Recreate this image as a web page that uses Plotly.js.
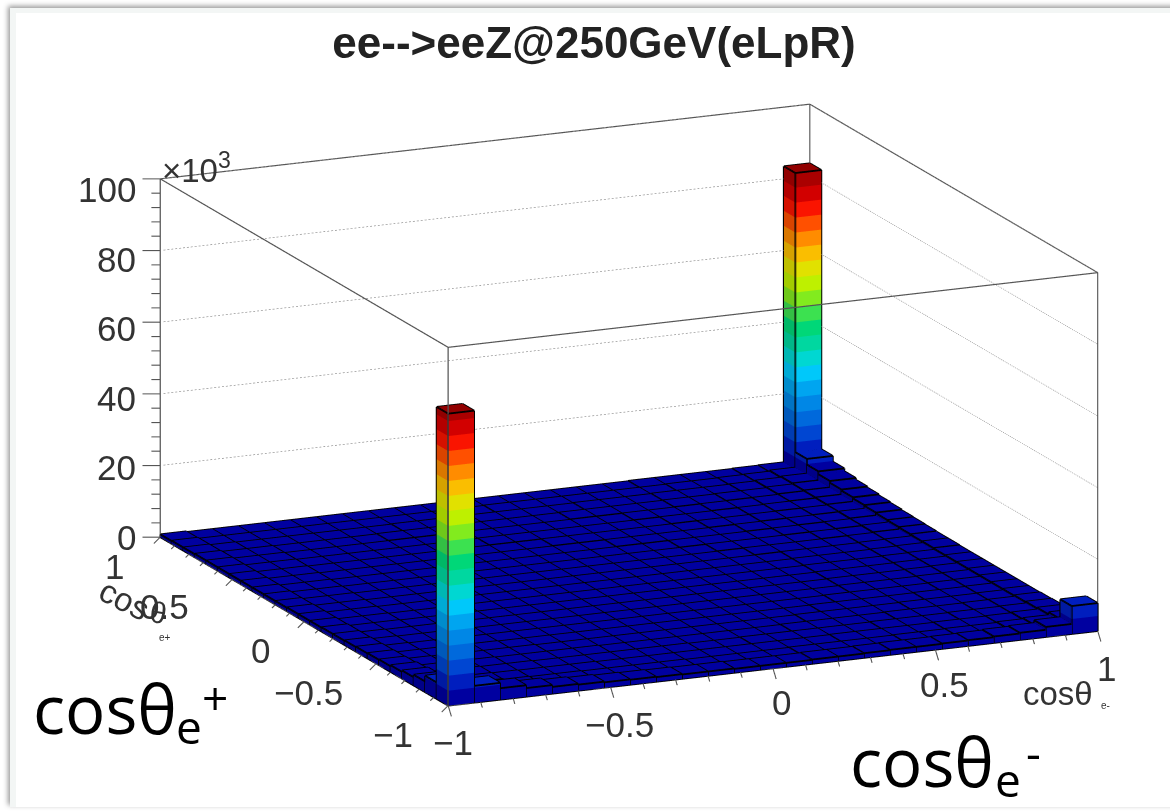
<!DOCTYPE html>
<html><head><meta charset="utf-8">
<script src="https://cdn.plot.ly/plotly-3.0.1.min.js"></script>
<style>
html,body{margin:0;padding:0;width:1170px;height:812px;overflow:hidden;background:#fff}
#outer{position:absolute;left:10px;top:8px;width:1200px;height:799px;background:#f3f6f5;box-shadow:-2px -2px 5px #999}
#inner{position:absolute;left:16px;top:13px;width:1200px;height:794px;background:#fff}
#chart{position:absolute;left:0;top:0;width:1170px;height:812px}
</style></head><body>
<div id="outer"></div><div id="inner"></div><div id="chart"></div>
<script>
// counts per bin in units of 10^3; rows run along cosθe+ from -1 to 1, columns along cosθe- from -1 to 1
const row01=[81.5,4.7,3.2,2.4,1.9,1.7,1.5,1.4,1.3,1.2,1.2,1.1,1.1,1.1,1.2,1.2,1.3,1.4,1.4,1.5,1.6,1.8,2.0,2.8,7.8];
const row02=[4.6,1.6,1.2,1.0,0.9,0.9,0.8,0.8,0.8,0.8,0.7,0.7,0.7,0.7,0.8,0.8,0.8,0.8,0.9,0.9,1.0,1.0,1.2,1.5,2.3];
const row03=[3.0,1.2,1.0,0.9,0.8,0.8,0.8,0.7,0.7,0.7,0.7,0.7,0.7,0.7,0.7,0.7,0.8,0.8,0.8,0.8,0.9,0.9,1.0,1.2,1.7];
const row04=[2.3,1.0,0.9,0.8,0.8,0.7,0.7,0.7,0.7,0.7,0.7,0.6,0.6,0.7,0.7,0.7,0.7,0.7,0.8,0.8,0.8,0.9,0.9,1.0,1.5];
const row05=[1.9,0.9,0.8,0.8,0.7,0.7,0.7,0.7,0.6,0.6,0.6,0.6,0.6,0.6,0.6,0.7,0.7,0.7,0.7,0.8,0.8,0.8,0.9,1.0,1.4];
const row06=[1.6,0.9,0.8,0.7,0.7,0.7,0.6,0.6,0.6,0.6,0.6,0.6,0.6,0.6,0.6,0.6,0.7,0.7,0.7,0.7,0.8,0.8,0.8,0.9,1.3];
const row07=[1.5,0.8,0.8,0.7,0.7,0.6,0.6,0.6,0.6,0.6,0.6,0.6,0.6,0.6,0.6,0.6,0.6,0.7,0.7,0.7,0.7,0.8,0.8,0.9,1.3];
const row08=[1.4,0.8,0.7,0.7,0.6,0.6,0.6,0.6,0.6,0.6,0.6,0.6,0.6,0.6,0.6,0.6,0.6,0.6,0.7,0.7,0.7,0.7,0.8,0.9,1.3];
const row09=[1.3,0.8,0.7,0.7,0.6,0.6,0.6,0.6,0.6,0.6,0.6,0.6,0.6,0.6,0.6,0.6,0.6,0.6,0.6,0.7,0.7,0.7,0.8,0.9,1.3];
const row10=[1.2,0.8,0.7,0.7,0.6,0.6,0.6,0.6,0.6,0.6,0.6,0.6,0.6,0.6,0.6,0.6,0.6,0.6,0.6,0.7,0.7,0.7,0.8,0.9,1.3];
const row11=[1.2,0.7,0.7,0.6,0.6,0.6,0.6,0.6,0.6,0.6,0.6,0.6,0.6,0.6,0.6,0.6,0.6,0.6,0.6,0.7,0.7,0.7,0.8,0.9,1.3];
const row12=[1.1,0.7,0.7,0.6,0.6,0.6,0.6,0.6,0.6,0.6,0.6,0.6,0.6,0.6,0.6,0.6,0.6,0.6,0.6,0.7,0.7,0.7,0.8,0.9,1.3];
const row13=[1.1,0.7,0.7,0.6,0.6,0.6,0.6,0.6,0.6,0.6,0.6,0.6,0.6,0.6,0.6,0.6,0.6,0.6,0.6,0.7,0.7,0.7,0.8,0.9,1.4];
const row14=[1.1,0.7,0.7,0.6,0.6,0.6,0.6,0.6,0.6,0.6,0.6,0.6,0.6,0.6,0.6,0.6,0.6,0.6,0.6,0.7,0.7,0.7,0.8,0.9,1.4];
const row15=[1.0,0.7,0.7,0.6,0.6,0.6,0.6,0.6,0.6,0.6,0.6,0.6,0.6,0.6,0.6,0.6,0.6,0.6,0.7,0.7,0.7,0.7,0.8,0.9,1.5];
const row16=[1.0,0.7,0.7,0.6,0.6,0.6,0.6,0.6,0.6,0.6,0.6,0.6,0.6,0.6,0.6,0.6,0.6,0.7,0.7,0.7,0.7,0.8,0.8,1.0,1.6];
const row17=[1.0,0.7,0.7,0.6,0.6,0.6,0.6,0.6,0.6,0.6,0.6,0.6,0.6,0.6,0.6,0.6,0.7,0.7,0.7,0.7,0.8,0.8,0.9,1.0,1.7];
const row18=[1.0,0.7,0.7,0.6,0.6,0.6,0.6,0.6,0.6,0.6,0.6,0.6,0.6,0.6,0.7,0.7,0.7,0.7,0.7,0.8,0.8,0.9,0.9,1.1,1.9];
const row19=[1.0,0.7,0.7,0.6,0.6,0.6,0.6,0.6,0.6,0.6,0.6,0.6,0.7,0.7,0.7,0.7,0.7,0.7,0.8,0.8,0.9,0.9,1.0,1.1,2.1];
const row20=[1.0,0.7,0.7,0.6,0.6,0.6,0.6,0.6,0.6,0.6,0.7,0.7,0.7,0.7,0.7,0.7,0.7,0.8,0.8,0.8,0.9,1.0,1.0,1.2,2.4];
const row21=[1.0,0.7,0.7,0.6,0.6,0.6,0.6,0.6,0.6,0.7,0.7,0.7,0.7,0.7,0.7,0.7,0.8,0.8,0.8,0.9,0.9,1.0,1.1,1.3,2.7];
const row22=[1.0,0.7,0.7,0.6,0.6,0.6,0.6,0.7,0.7,0.7,0.7,0.7,0.7,0.7,0.8,0.8,0.8,0.8,0.9,0.9,1.0,1.0,1.2,1.4,3.2];
const row23=[0.9,0.7,0.6,0.6,0.6,0.6,0.6,0.6,0.7,0.7,0.7,0.7,0.7,0.7,0.7,0.8,0.8,0.8,0.9,0.9,0.9,1.0,1.2,1.5,4.0];
const row24=[0.9,0.6,0.6,0.6,0.6,0.6,0.6,0.6,0.6,0.6,0.6,0.6,0.7,0.7,0.7,0.7,0.7,0.7,0.7,0.8,0.8,0.9,1.0,1.3,5.6];
const row25=[0.8,0.6,0.6,0.6,0.6,0.6,0.6,0.6,0.6,0.6,0.6,0.6,0.6,0.6,0.6,0.6,0.6,0.6,0.7,0.7,0.7,0.7,0.8,0.9,83.5];
const binValues=[row01,row02,row03,row04,row05,row06,row07,row08,row09,row10,row11,row12,row13,row14,row15,row16,row17,row18,row19,row20,row21,row22,row23,row24,row25];
const binEdges=[-1,-0.92,-0.84,-0.76,-0.68,-0.6,-0.52,-0.44,-0.36,-0.28,-0.2,-0.12,-0.04,0.04,0.12,0.2,0.28,0.36,0.44,0.52,0.6,0.68,0.76,0.84,0.92,1];
// colour of each of the twenty contour bands, bottom to top
const bandColors=[[0,0,160],[0,30,190],[0,70,210],[0,105,220],[0,135,230],[0,165,240],[0,200,250],[0,215,210],[0,215,160],[0,215,120],[60,225,80],[130,235,30],[190,240,0],[225,225,0],[250,190,0],[255,140,0],[255,80,0],[250,20,0],[210,0,0],[170,0,0]];
const bandStep=4.18;
const zTicks=[0,20,40,60,80,100];
const zTickLabels=['0','20','40','60','80','100'];
const xTicks=[-1,-0.5,0,0.5,1];
const xTickLabels=['−1','−0.5','0','0.5','1'];
const yTicks=[-1,-0.5,0,0.5,1];
const yTickLabels=['−1','−0.5','0','0.5','1'];

// camera fitted to the box edges in the picture
const view={az:-0.4172,sinEl:0.2594,dist:1.7};
const c=Math.cos(view.az),t=Math.sin(view.az),e=view.sinEl,ce=Math.sqrt(1-e*e);
const eyeDir={x:t*ce,y:-c*ce,z:e};

const mx=[],my=[],mz=[],mi=[],mj=[],mk=[],mc=[];
const lx=[],ly=[],lz=[];
function rgb(col,f){return 'rgb('+col.map(v=>Math.round(v*f)).join(',')+')';}
function quad(p,col){
  const n=mx.length;
  p.forEach(q=>{mx.push(q[0]);my.push(q[1]);mz.push(q[2]);});
  mi.push(n,n);mj.push(n+1,n+2);mk.push(n+2,n+3);mc.push(col,col);
}
function seg(a,b){lx.push(a[0],b[0],null);ly.push(a[1],b[1],null);lz.push(a[2],b[2],null);}
binValues.forEach((row,j)=>row.forEach((v,i)=>{
  const x0=binEdges[i],x1=binEdges[i+1],y0=binEdges[j],y1=binEdges[j+1];
  let b=0,zb=0;
  while(zb<v-1e-6){
    const zt=Math.min(v,zb+bandStep),col=bandColors[Math.min(b,19)];
    quad([[x0,y0,zb],[x1,y0,zb],[x1,y0,zt],[x0,y0,zt]],rgb(col,1));
    quad([[x0,y0,zb],[x0,y1,zb],[x0,y1,zt],[x0,y0,zt]],rgb(col,0.85));
    zb=zt;b++;
  }
  const top=bandColors[Math.min(b-1,19)];
  quad([[x0,y0,v],[x1,y0,v],[x1,y1,v],[x0,y1,v]],rgb(top,v>60?0.85:1));
  seg([x0,y0,v],[x1,y0,v]);seg([x1,y0,v],[x1,y1,v]);seg([x1,y1,v],[x0,y1,v]);seg([x0,y1,v],[x0,y0,v]);
  seg([x0,y0,0],[x0,y0,v]);seg([x1,y0,0],[x1,y0,v]);seg([x0,y1,0],[x0,y1,v]);
  seg([x0,y0,0],[x1,y0,0]);seg([x0,y0,0],[x0,y1,0]);
}));

// box
const fx=[],fy=[],fz=[];
function fseg(a,b){fx.push(a[0],b[0],null);fy.push(a[1],b[1],null);fz.push(a[2],b[2],null);}
const T=100;
fseg([-1,1,0],[-1,1,T]);fseg([-1,-1,0],[-1,-1,T]);fseg([1,-1,0],[1,-1,T]);fseg([1,1,0],[1,1,T]);
fseg([-1,-1,T],[1,-1,T]);fseg([1,-1,T],[1,1,T]);fseg([1,1,T],[-1,1,T]);fseg([-1,1,T],[-1,-1,T]);
fseg([-1,-1,0],[1,-1,0]);fseg([-1,-1,0],[-1,1,0]);

// ticks: offsets are chosen to read as screen directions
function floorOffset(sx,sy){const g=sy/e;return [c*sx-t*g,t*sx+c*g,0];}
const tx=[],ty=[],tz=[];
function tseg(a,b){tx.push(a[0],b[0],null);ty.push(a[1],b[1],null);tz.push(a[2],b[2],null);}
const minorX=[-1,-0.9,-0.8,-0.7,-0.6,-0.5,-0.4,-0.3,-0.2,-0.1,0,0.1,0.2,0.3,0.4,0.5,0.6,0.7,0.8,0.9,1];
minorX.forEach((v,n)=>{
  const L=n%5===0?0.03:0.016;
  const d=floorOffset(0.3*L,-L);
  tseg([v,-1,0],[v+d[0],-1+d[1],0]);
  const d2=floorOffset(-0.6*L,-0.6*L);
  tseg([-1,v,0],[-1+d2[0],v+d2[1],0]);
});
const minorZ=[0,4,8,12,16,20,24,28,32,36,40,44,48,52,56,60,64,68,72,76,80,84,88,92,96,100];
minorZ.forEach((v,n)=>{
  const L=n%5===0?0.05:0.025;
  tseg([-1,1,v],[-1-c*L,1-t*L,v]);
});

// back wall dotted grid, one short stroke at a time
const gx=[],gy=[],gz=[];
const dotStep=0.012,dotLen=0.006;
zTicks.slice(1).forEach(z=>{
  for(let s=-0.99;s<1;s+=dotStep){
    gx.push(s,s+dotLen,null);gy.push(1,1,null);gz.push(z,z,null);
    gx.push(1,1,null);gy.push(-s,-s-dotLen,null);gz.push(z,z,null);
  }
});

const traces=[
 {type:'mesh3d',x:mx,y:my,z:mz,i:mi,j:mj,k:mk,facecolor:mc,flatshading:true,hoverinfo:'skip',
  lighting:{ambient:1,diffuse:0,specular:0,roughness:1,fresnel:0},lightposition:{x:0,y:0,z:1e5},showscale:false},
 {type:'scatter3d',mode:'lines',x:lx,y:ly,z:lz,line:{color:'#000',width:3.6},hoverinfo:'skip',showlegend:false},
 {type:'scatter3d',mode:'lines',x:gx,y:gy,z:gz,line:{color:'#8a8a8a',width:1.3},hoverinfo:'skip',showlegend:false},
 {type:'scatter3d',mode:'lines',x:fx,y:fy,z:fz,line:{color:'#555',width:2.4},hoverinfo:'skip',showlegend:false},
 {type:'scatter3d',mode:'lines',x:tx,y:ty,z:tz,line:{color:'#555',width:2.2},hoverinfo:'skip',showlegend:false}
];

const F='"Liberation Sans",Arial,sans-serif',tf={family:F,size:35,color:'#333'};
const xShiftX=[5,9,9,9,9],yShiftX=[-37,-37,-34,-35,-37];
const xShiftY=[-55,-68,-44,-68,-46],yShiftY=[-29,-29,-29,-27,-29];
const sceneAnn=[];
function sa(x,y,z,text,xs,ys,font,extra){sceneAnn.push(Object.assign({x,y,z,text,showarrow:false,xshift:xs,yshift:ys,xanchor:'center',yanchor:'middle',font:font||tf},extra||{}));}
zTicks.forEach((v,n)=>sa(-1,1,v,zTickLabels[n],0,-v*0.11,tf,{xanchor:'right',xshift:-22}));
xTicks.forEach((v,n)=>sa(v,-1,0,xTickLabels[n],xShiftX[n],yShiftX[n],tf));
yTicks.forEach((v,n)=>sa(-1,v,0,yTickLabels[n],xShiftY[n],yShiftY[n],tf));
sa(-1,1,100,'×10<sup>3</sup>',36,11,{family:F,size:33,color:'#333'});
sa(1,-1,0,'cosθ',-40,-62,{family:F,size:33,color:'#333'});
sa(1,-1,0,'e-',8,-74,{family:F,size:10,color:'#333'});
sa(-1,1,0,'cos',-36,-62,{family:F,size:33,color:'#333'},{textangle:27});
sa(-1,1,0,'θ',-2,-75,{family:F,size:30,color:'#333'},{textangle:10});
sa(-1,1,0,'e+',5,-100,{family:F,size:10,color:'#333'});

const OS='"Open Sans",sans-serif';
function bigLabel(x,y,size,text){return {xref:'paper',yref:'paper',x:x/1170,y:1-y/812,xanchor:'left',yanchor:'middle',showarrow:false,text,font:{family:OS,size,color:'#000'}};}
const layout={
 width:1170,height:812,margin:{l:0,r:0,t:0,b:0},paper_bgcolor:'rgba(0,0,0,0)',showlegend:false,
 title:{text:'ee-->eeZ@250GeV(eLpR)',font:{family:F,size:44,color:'#222',weight:'bold'},x:594/1170,xanchor:'center',xref:'paper',y:0.947,yanchor:'middle'},
 hovermode:false,
 scene:{
  domain:{x:[88/1170,1],y:[0,1]},
  bgcolor:'rgba(0,0,0,0)',
  aspectmode:'manual',aspectratio:{x:2.625,y:2.625,z:1.645},
  camera:{projection:{type:'orthographic'},up:{x:0,y:0,z:1},
    center:{x:0,y:0,z:0},
    eye:{x:eyeDir.x*view.dist,y:eyeDir.y*view.dist,z:eyeDir.z*view.dist}},
  xaxis:{range:[-1.5,1.5],showgrid:false,zeroline:false,showline:false,showticklabels:false,ticks:'',showbackground:false,showspikes:false,title:{text:''}},
  yaxis:{range:[-1.5,1.5],showgrid:false,zeroline:false,showline:false,showticklabels:false,ticks:'',showbackground:false,showspikes:false,title:{text:''}},
  zaxis:{range:[-40.3,139.7],showgrid:false,zeroline:false,showline:false,showticklabels:false,ticks:'',showbackground:false,showspikes:false,title:{text:''}},
  annotations:sceneAnn
 },
 annotations:[
  bigLabel(31,708,67,'cosθ'),bigLabel(174,726,46,'e'),bigLabel(200,697,46,'+'),
  bigLabel(848,761,67,'cosθ'),bigLabel(993,779,46,'e'),bigLabel(1024,752,46,'-')
 ]
};
Plotly.newPlot('chart',traces,layout,{displayModeBar:false,responsive:false}).then(gd=>{
  const g=gd.querySelector('.gl-container'); if(g) g.style.filter='blur(0.6px)';
  gd.querySelectorAll('.annotation, .g-gtitle').forEach(n=>{
    const tt=n.querySelector('text'); const fs=tt?parseFloat(tt.style.fontSize||'0'):0;
    if(fs<40||n.classList.contains('g-gtitle')) n.style.filter='blur(0.7px)';
  });
});
</script></body></html>
